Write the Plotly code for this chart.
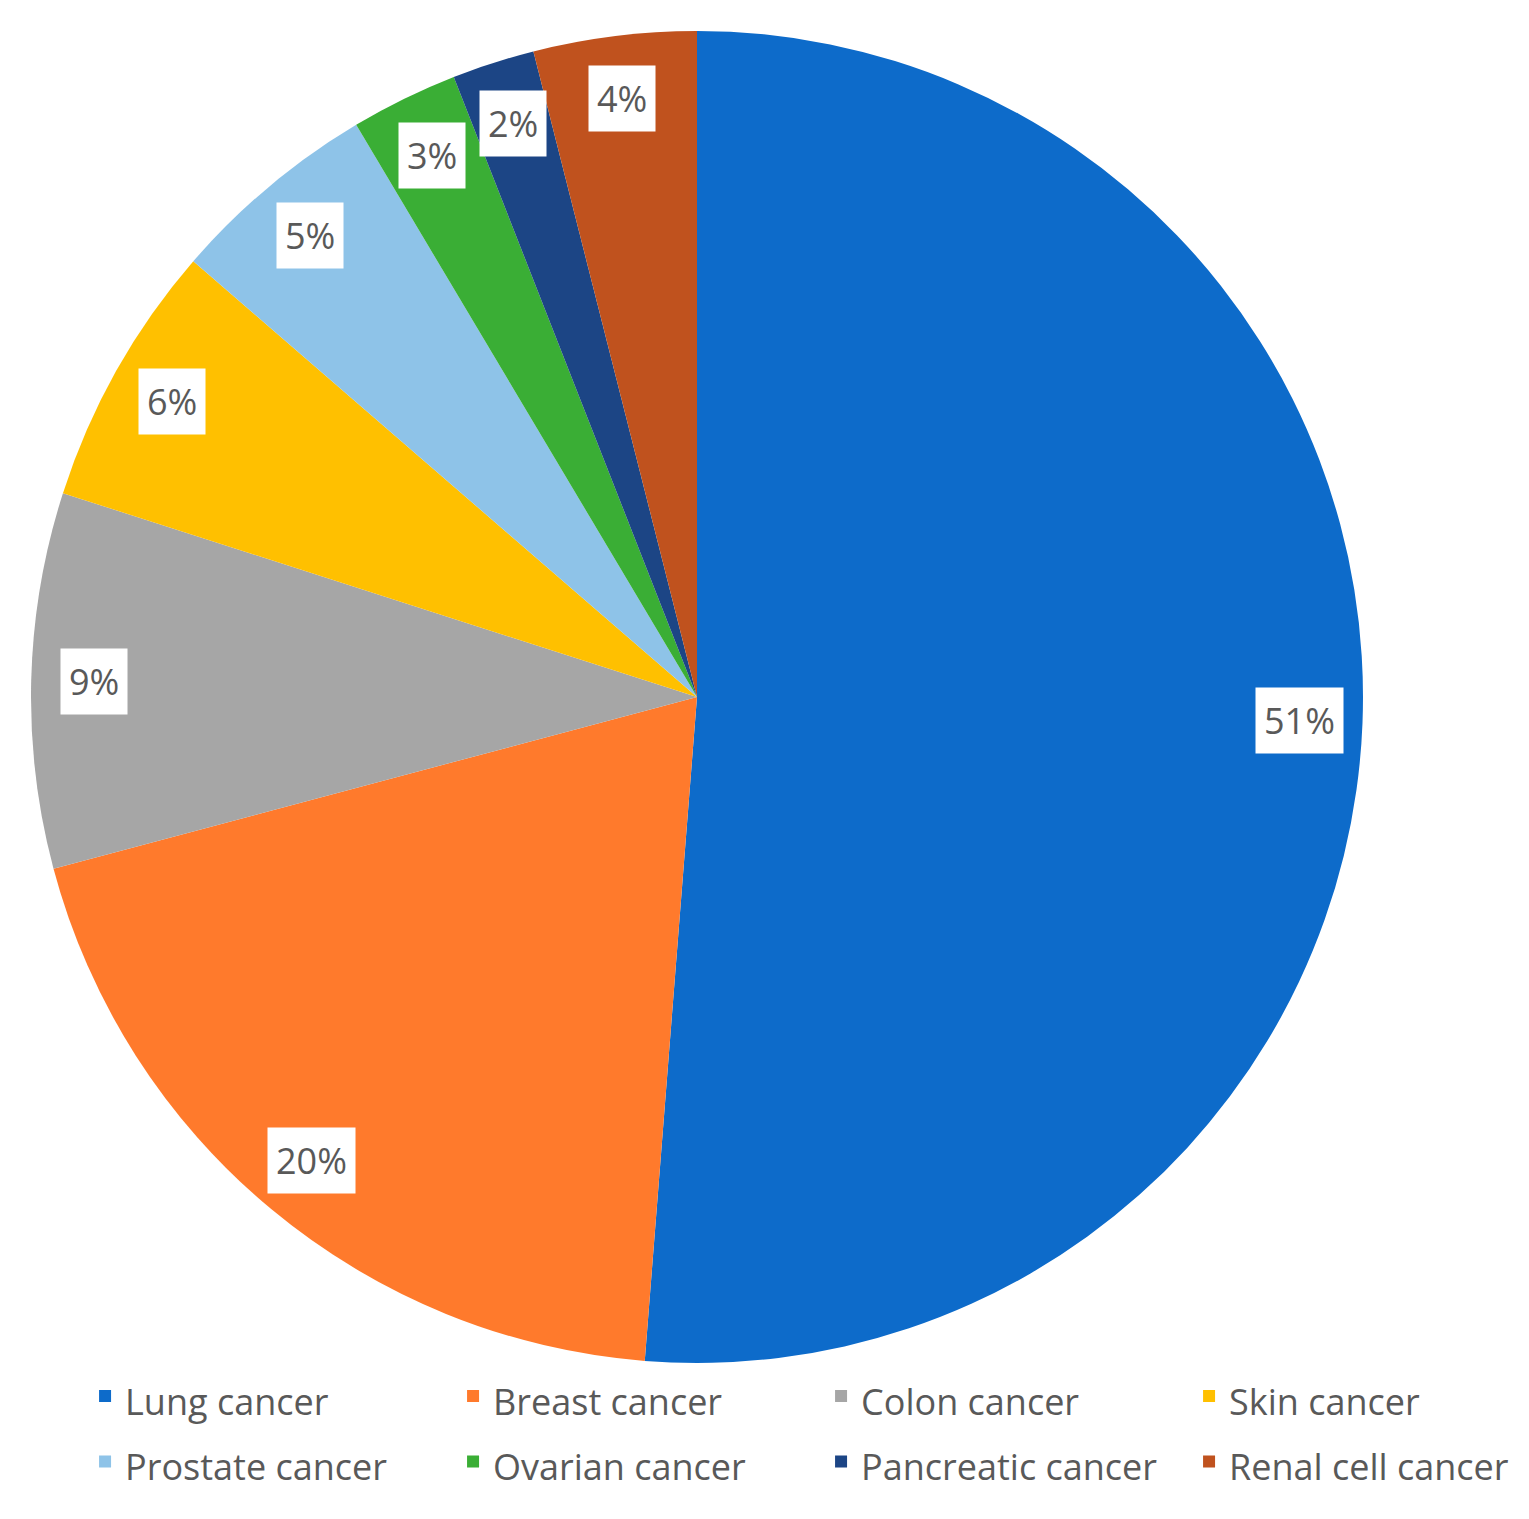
import numpy as np
import plotly.graph_objects as go

# data (share of cases, %)
labels = ["Lung cancer", "Breast cancer", "Colon cancer", "Skin cancer",
          "Prostate cancer", "Ovarian cancer", "Pancreatic cancer", "Renal cell cancer"]
values = [51.25, 19.6, 9.1, 6.4, 5.1, 2.6, 2.0, 3.95]
colors = ["#0D6BCA", "#FF7A2C", "#A6A6A6", "#FFC000",
          "#8EC3E8", "#3AAE35", "#1C4585", "#C0521E"]

W, H = 1529, 1519
cx, cy, r = 689, 689, 666  # pie centre / radius in px (page body adds 8px)

fig = go.Figure()

# legend text smaller than the legend font so the rows get more space
legend_names = ["<span style='font-size:36px'>%s</span>" % l for l in labels]

fig.add_trace(go.Pie(
    labels=legend_names,
    values=values,
    sort=False,
    direction="clockwise",
    rotation=0,
    marker=dict(colors=colors, line=dict(width=0)),
    textinfo="none",
    hoverinfo="label+percent",
    domain=dict(x=[(cx - r) / W, (cx + r) / W],
                y=[1 - (cy + r) / H, 1 - (cy - r) / H]),
))

# percentage labels in white boxes, placed at the middle angle of each slice
vals = np.array(values)
pct = vals / vals.sum()
mid = (np.cumsum(pct) - pct / 2) * 2 * np.pi
for p, a in zip(pct, mid):
    px_ = cx + 0.905 * r * np.sin(a)
    py_ = cy - 0.905 * r * np.cos(a)
    fig.add_annotation(
        x=px_ / W, y=1 - py_ / H, xref="paper", yref="paper",
        xanchor="center", yanchor="middle",
        text="%d%%" % round(p * 100),
        showarrow=False,
        font=dict(family="Open Sans", size=36, color="#595959"),
        bgcolor="white", borderpad=8,
    )

fig.update_layout(
    width=W, height=H,
    margin=dict(l=0, r=0, t=0, b=0, autoexpand=False),
    paper_bgcolor="white",
    plot_bgcolor="white",
    showlegend=True,
    legend=dict(
        orientation="h",
        x=0.0504, y=0.111, xanchor="left", yanchor="top",
        entrywidth=323, entrywidthmode="pixels",
        bgcolor="rgba(0,0,0,0)",
        font=dict(family="Open Sans", size=48, color="#595959"),
        traceorder="normal",
    ),
)

fig.write_html("out.html")
